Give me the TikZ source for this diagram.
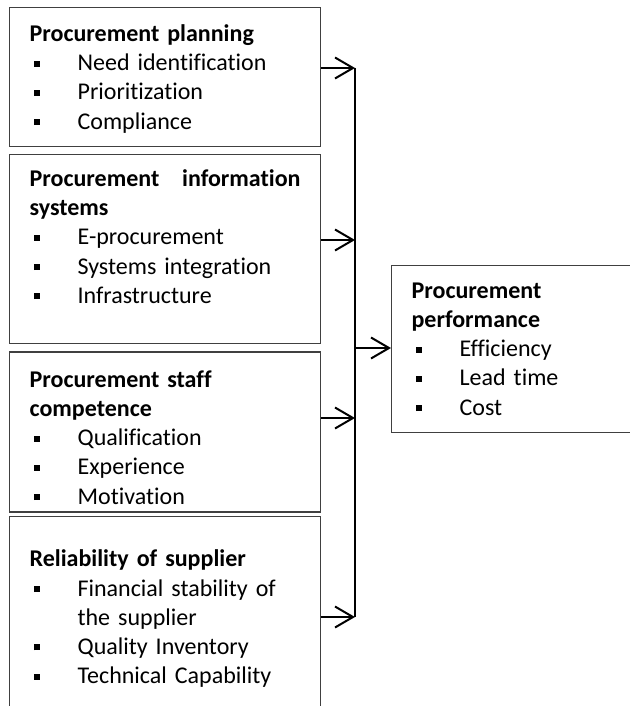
\documentclass[tikz,border=0pt]{standalone}
\usepackage{fontspec}
\setmainfont{Carlito}[Ligatures=NoCommon]
\usetikzlibrary{arrows.meta,positioning}

\tikzset{
  box/.style={draw=black!75, line width=0.6pt, anchor=north west, inner xsep=10pt,
    inner ysep=0pt, text width=135.5pt, execute at begin node=\raggedright,
    font=\fontsize{12}{14.6}\selectfont},
  link/.style={line width=1pt, -{Straight Barb[length=9pt,width=10.5pt]}}
}
\newcommand{\bul}{\par\noindent\hangindent=24pt\hangafter=1%
  \makebox[24pt][l]{\hspace{2pt}\rule[2pt]{3pt}{3pt}}}

\begin{document}
\begin{tikzpicture}[x=0.5pt, y=-0.5pt]
  \useasboundingbox (0,0) rectangle (629,706);
  % Factor boxes
  \node [box, text height=17pt, text depth=52.5pt] (plan) at (9,7)
    {\textbf{Procurement planning}\bul Need identification\bul Prioritization\bul Compliance};
  \node [box, below=3.5pt of plan.south west, anchor=north west, text height=15.8pt, text depth=78.7pt] (info)
    {\textbf{Procurement}\hfill\textbf{information}\newline\textbf{systems}\bul E-procurement\bul Systems integration\bul Infrastructure};
  \node [box, below=3.5pt of info.south west, anchor=north west, text height=17.6pt, text depth=62.4pt] (staff)
    {\textbf{Procurement staff}\newline\textbf{competence}\bul Qualification\bul Experience\bul Motivation};
  \node [box, below=1.5pt of staff.south west, anchor=north west, text height=25.3pt, text depth=84.7pt] (supp)
    {\textbf{Reliability of supplier}\bul Financial stability of\newline the supplier\bul Quality Inventory\bul Technical Capability};
  \node [box, text width=105pt, text height=16.3pt, text depth=67.2pt, minimum width=125pt] (perf) at (391,265)
    {\textbf{Procurement}\newline\textbf{performance}\bul Efficiency\bul Lead time\bul Cost};
  % Bus points
  \coordinate (j1) at (355,68);
  \coordinate (j2) at (355,240);
  \coordinate (jm) at (355,348);
  \coordinate (j3) at (355,418);
  \coordinate (j4) at (355,617);
  % Draw edges
  \draw [line width=1pt] (j1) -- (j4);
  \draw [link] (plan.east |- j1) -- (j1);
  \draw [link] (info.east |- j2) -- (j2);
  \draw [link] (staff.east |- j3) -- (j3);
  \draw [link] (supp.east |- j4) -- (j4);
  \draw [link] (jm) -- (perf.west |- jm);
\end{tikzpicture}
\end{document}
